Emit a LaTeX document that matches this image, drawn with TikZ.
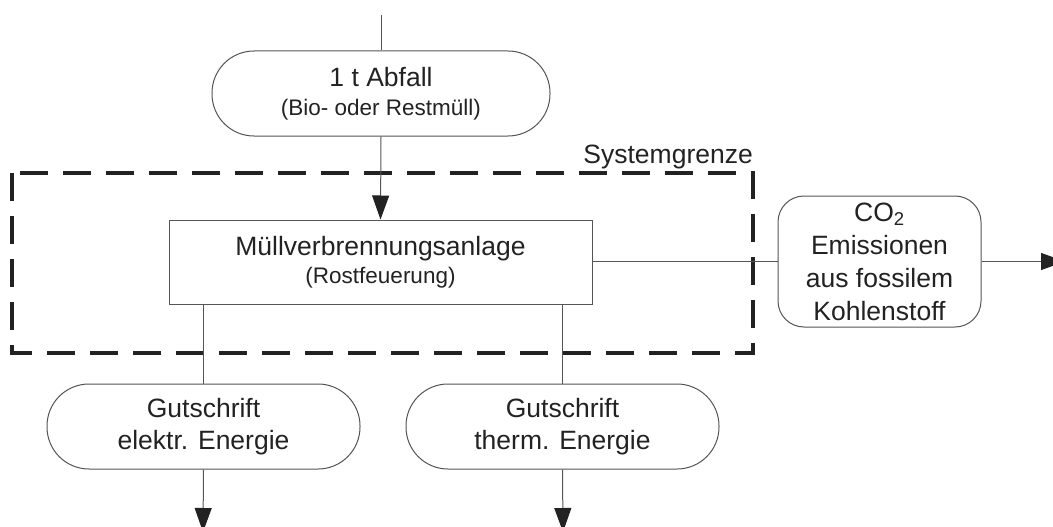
\documentclass[tikz,border=0pt]{standalone}
\usepackage{fontspec}
\setmainfont{Liberation Sans}
\usetikzlibrary{arrows.meta}
\definecolor{ink}{HTML}{222222}
\definecolor{edge}{HTML}{555555}
\begin{document}
\begin{tikzpicture}[x=1pt,y=-1pt,
  every node/.style={text=ink, inner sep=0pt},
  bigtxt/.style={font=\fontsize{26.5}{32}\selectfont},
  twotxt/.style={font=\fontsize{26.5}{29}\selectfont},
  stadium/.style={draw=edge, line width=1pt, rounded corners=42pt,
    minimum width=313pt, minimum height=85pt, align=center},
  flow/.style={draw=edge, line width=1pt,
    -{Triangle[length=24pt,width=17pt,fill=ink,color=ink]}},
  plain/.style={draw=edge, line width=1pt},
  boundary/.style={draw=ink, line width=3.5pt, dash pattern=on 28pt off 15pt}]
\useasboundingbox (0,0) rectangle (1053,527);
\begin{scope}
\clip (0,0) rectangle (1053,527);

% system boundary
\draw[boundary] (12,173) rectangle (753,353);
\node[bigtxt, anchor=base east] (grenze) at (753,163) {Systemgrenze};

% nodes
\node[stadium, twotxt, minimum width=338pt] (abfall) at (381,93.5)
  {1 t Abfall\\
   {\fontsize{22.5}{29}\selectfont (Bio- oder Restmüll)}};
\node[draw=edge, line width=1pt, minimum width=423pt, minimum height=84pt,
  align=center, font=\fontsize{26.5}{28}\selectfont] (mva) at (380.5,262)
  {Müllverbrennungsanlage\\
   {\fontsize{22.5}{28}\selectfont (Rostfeuerung)}};
\node[draw=edge, line width=1pt, rounded corners=26pt, minimum width=203pt,
  minimum height=131pt, align=center,
  font=\fontsize{26.5}{33}\selectfont] (co2) at (879.5,261.5)
  {CO\textsubscript{2}\\Emissionen\\aus fossilem\\Kohlenstoff};
\node[stadium, bigtxt] (elek) at (203.5,426.5) {Gutschrift\\elektr. Energie};
\node[stadium, bigtxt] (therm) at (562.5,426.5) {Gutschrift\\therm. Energie};

% free ends
\coordinate (in) at (381,15);
\coordinate (outE) at (203,532);
\coordinate (outT) at (563,532);
\coordinate (outC) at (1065,261.5);

% connectors
\draw[plain] (in) -- (abfall.north);
\draw[flow] (abfall.south) -- (mva.north);
\draw[plain] (mva.east |- 0,261.5) -- (co2.west);
\draw[flow] (co2.east) -- (outC);
\draw[plain] (mva.south -| elek.north) -- (elek.north);
\draw[plain] (mva.south -| therm.north) -- (therm.north);
\draw[flow] (elek.south) -- (outE);
\draw[flow] (therm.south) -- (outT);
\end{scope}
\end{tikzpicture}
\end{document}
